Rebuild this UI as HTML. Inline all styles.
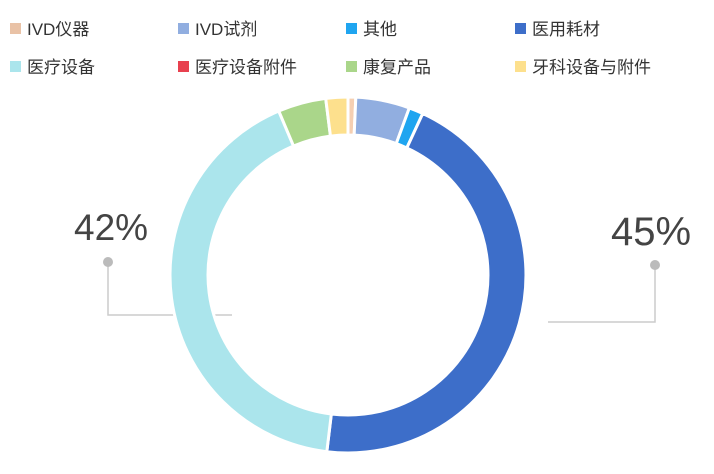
<!DOCTYPE html>
<html><head><meta charset="utf-8"><style>
body{margin:0;background:#fff;width:714px;height:469px;overflow:hidden;font-family:"Liberation Sans","Noto Sans CJK SC",sans-serif;}
</style></head><body>
<svg width="714" height="469" xmlns="http://www.w3.org/2000/svg" font-family="Liberation Sans, Noto Sans CJK SC, sans-serif">
<g font-size="17" fill="#333">
<rect x="10" y="23" width="11" height="11" fill="#e9c2a6"/><text x="27" y="35">IVD仪器</text>
<rect x="178" y="23" width="11" height="11" fill="#91aee0"/><text x="195" y="35">IVD试剂</text>
<rect x="346" y="23" width="11" height="11" fill="#1fa5f0"/><text x="363" y="35">其他</text>
<rect x="515" y="23" width="11" height="11" fill="#3d6ec9"/><text x="532" y="35">医用耗材</text>
<rect x="10" y="61" width="11" height="11" fill="#abe5ec"/><text x="27" y="73">医疗设备</text>
<rect x="178" y="61" width="11" height="11" fill="#e8414f"/><text x="195" y="73">医疗设备附件</text>
<rect x="346" y="61" width="11" height="11" fill="#aad68a"/><text x="363" y="73">康复产品</text>
<rect x="515" y="61" width="11" height="11" fill="#fde08d"/><text x="532" y="73">牙科设备与附件</text>
</g>
<g stroke="#ccc" stroke-width="1.5" fill="none">
<polyline points="108,262 108,315 232,315"/>
<polyline points="655,265 655,322 548,322"/>
</g>
<g stroke="#fff" stroke-width="3">
<path fill="#f5cfb2" d="M348,97 A178,178 0 0 1 355.83,97.17 L354.16,135.14 A140,140 0 0 0 348,135Z"/>
<path fill="#91aee0" d="M355.83,97.17 A178,178 0 0 1 409.35,107.91 L396.25,143.58 A140,140 0 0 0 354.16,135.14Z"/>
<path fill="#1fa5f0" d="M409.35,107.91 A178,178 0 0 1 422.77,113.47 L406.81,147.95 A140,140 0 0 0 396.25,143.58Z"/>
<path fill="#3d6ec9" d="M422.77,113.47 A178,178 0 0 1 326.81,451.73 L331.33,414 A140,140 0 0 0 406.81,147.95Z"/>
<path fill="#abe5ec" d="M326.81,451.73 A178,178 0 0 1 281.86,109.74 L295.98,145.02 A140,140 0 0 0 331.33,414Z"/>
<path fill="#e8414f" d="M281.86,109.74 A178,178 0 0 1 278.76,111.02 L293.54,146.03 A140,140 0 0 0 295.98,145.02Z"/>
<path fill="#aad68a" d="M278.76,111.02 A178,178 0 0 1 325.69,98.4 L330.45,136.1 A140,140 0 0 0 293.54,146.03Z"/>
<path fill="#fde08d" d="M325.69,98.4 A178,178 0 0 1 348,97 L348,135 A140,140 0 0 0 330.45,136.1Z"/>
</g>
<circle cx="108" cy="262" r="5" fill="#bbb"/>
<circle cx="655" cy="265" r="5" fill="#bbb"/>
<text x="74" y="240" font-size="37" fill="#444">42%</text>
<text x="611" y="245" font-size="40" fill="#444">45%</text>
</svg>
</body></html>
